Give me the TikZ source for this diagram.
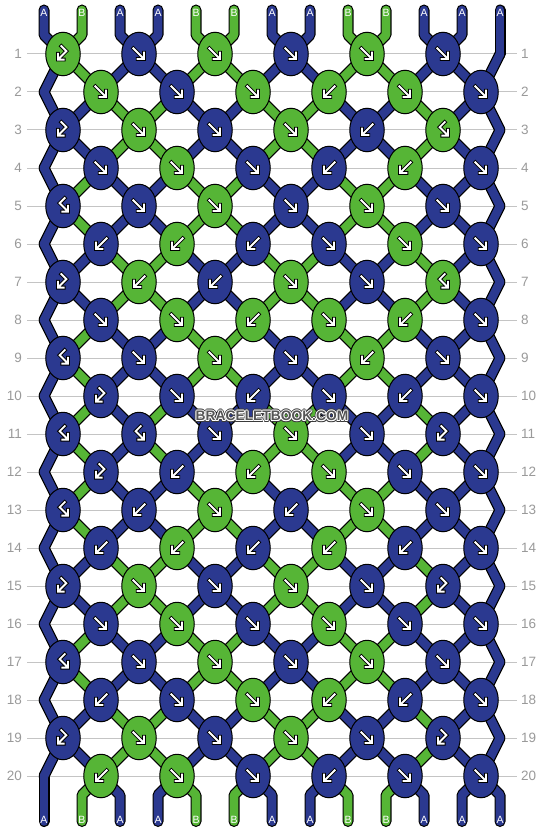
\documentclass[tikz,border=0pt]{standalone}
\usepackage{fontspec}
\setmainfont{Liberation Sans}
\usetikzlibrary{shapes.geometric}
\definecolor{strA}{HTML}{2B3990}
\definecolor{strB}{HTML}{56B536}
\definecolor{gridgray}{HTML}{C4C4C4}
\definecolor{labgray}{HTML}{9A9A9A}
\definecolor{wmdark}{HTML}{3A3A3A}
\definecolor{wmfill}{HTML}{555555}
\def\stP{A,B,A,A,B,B,A,A,B,B,A,A,A}
\def\stQ{A,A,B,B,A,A,B,B,A,A,B,A,A}
\def\stR{A,B,A,B,A,A,B,B,A,A,B,A,A}
\newcommand\knotglyph[2]{\draw[glyphout,shift={(#1)},scale=1.12] #2; \draw[glyphin,shift={(#1)},scale=1.12] #2;}
\newcommand\kgF[1]{\knotglyph{#1}{(-5,-5) -- (3.6,3.6) (4.5,-1.2) -- (4.5,4.5) -- (-1.2,4.5)}}
\newcommand\kgB[1]{\knotglyph{#1}{(5,-5) -- (-3.6,3.6) (-4.5,-1.2) -- (-4.5,4.5) -- (1.2,4.5)}}
\newcommand\kgFB[1]{\knotglyph{#1}{(1.5,-7) -- (-3,-2.5) -- (3.4,3.9) (4.5,-0.2) -- (4.5,5) -- (-0.7,5)}}
\newcommand\kgBF[1]{\knotglyph{#1}{(-1.5,-7) -- (3,-2.5) -- (-3.4,3.9) (-4.5,-0.2) -- (-4.5,5) -- (0.7,5)}}
\newcommand\allstrands[1]{%
  \foreach \cc [count=\ii] in \stP { \draw[strand#1=\cc] (t-\ii) -- (tb-\ii) -- (p-1-\ii); }
  \foreach \rr/\sn in {1/P,2/Q,3/Q,4/P,5/P,6/Q,7/Q,8/P,9/P,10/R,11/R,12/P,13/P,14/Q,15/Q,16/P,17/P,18/Q,19/Q} {
    \pgfmathtruncatemacro\rn{\rr+1}
    \expandafter\let\expandafter\curst\csname st\sn\endcsname
    \foreach \cc [count=\ii] in \curst { \draw[strand#1=\cc] (p-\rr-\ii) -- (p-\rn-\ii); }
  }
  \foreach \cc [count=\ii] in \stP { \draw[strand#1=\cc] (p-20-\ii) -- (bb-\ii) -- (e-\ii); }
}
\begin{document}
\begin{tikzpicture}[x=1pt,y=-1pt,
  strand0/.style={draw=black, line width=11pt, line cap=round, line join=round},
  strand1/.style={draw=str#1, line width=8.6pt, line cap=round, line join=round},
  knot/.style={ellipse, draw=black, line width=1pt, minimum width=34.5pt, minimum height=43.5pt, inner sep=0pt},
  glyphout/.style={draw=black, line width=3.8pt, line cap=rect, line join=miter},
  glyphin/.style={draw=white, line width=1.9pt, line cap=rect, line join=miter},
  gridline/.style={draw=gridgray, line width=1pt},
  rowlab/.style={text=labgray, font=\fontsize{13.5}{15}\selectfont, inner sep=0pt},
  strlab/.style={text=white, font=\fontsize{10.5}{12}\selectfont, inner sep=0pt},
  wmtext/.style={font=\bfseries\fontsize{13.8}{15}\selectfont, inner sep=0pt}
]
\useasboundingbox (0,0) rectangle (544,832);
\fill[white] (0,0) rectangle (544,832);
% grid lines and row labels
\foreach \rr in {1,...,20} {
  \pgfmathsetmacro\yy{54+38*(\rr-1)}
  \coordinate (gl-\rr) at (27,\yy);
  \coordinate (gr-\rr) at (517,\yy);
  \draw[gridline] (gl-\rr) -- (gr-\rr);
  \node[rowlab, anchor=east] (ll-\rr) at (22,\yy) {\rr};
  \node[rowlab, anchor=west] (rl-\rr) at (521,\yy) {\rr};
}
% strand coordinates
\foreach \rr in {1,...,20} {
  \foreach \ii in {1,...,13} {
    \pgfmathsetmacro\px{isodd(\rr) ? (\ii==13 ? 500 : 63+76*floor((\ii-1)/2)) : (\ii==1 ? 44 : 25+76*floor(\ii/2))}
    \pgfmathsetmacro\py{54+38*(\rr-1)}
    \coordinate (p-\rr-\ii) at (\px,\py);
  }
}
\foreach \ii in {1,...,13} {
  \pgfmathsetmacro\sx{44+38*(\ii-1)}
  \pgfmathsetmacro\tby{\ii==13 ? 30 : 35}
  \pgfmathsetmacro\bby{\ii==1 ? 800 : 795}
  \coordinate (t-\ii) at (\sx,10);
  \coordinate (tb-\ii) at (\sx,\tby);
  \coordinate (bb-\ii) at (\sx,\bby);
  \coordinate (e-\ii) at (\sx,821.5);
}
% strands: outlines then colours
\allstrands{0}
\allstrands{1}
% string labels
\foreach \cc [count=\ii] in \stP {
  \pgfmathsetmacro\sx{44+38*(\ii-1)}
  \node[strlab] (tl-\ii) at (\sx,12.5) {\cc};
  \node[strlab] (bl-\ii) at (\sx,819.5) {\cc};
}
% knots
\foreach \rr/\ks in {
  1/{BF/B,F/A,F/B,F/A,F/B,F/A},
  2/{F/B,F/A,F/B,B/B,F/B,F/A},
  3/{BF/A,F/B,F/A,F/B,B/A,FB/B},
  4/{F/A,F/B,F/A,B/A,B/B,F/A},
  5/{FB/A,F/A,F/B,F/A,F/B,F/A},
  6/{B/A,B/B,B/A,F/A,F/B,F/A},
  7/{BF/A,B/B,B/A,F/B,F/A,FB/B},
  8/{F/A,F/B,B/B,F/B,B/B,F/A},
  9/{FB/A,F/A,F/B,F/A,B/B,F/A},
  10/{BF/A,F/A,B/A,F/A,B/A,F/A},
  11/{FB/A,FB/A,F/A,F/B,F/A,BF/A},
  12/{BF/A,B/A,B/B,F/B,F/A,F/A},
  13/{FB/A,B/A,F/B,B/A,F/B,F/A},
  14/{B/A,B/B,B/A,B/B,B/A,F/A},
  15/{BF/A,F/B,F/A,F/B,F/A,BF/A},
  16/{F/A,F/B,F/A,F/B,F/A,F/A},
  17/{FB/A,F/A,F/B,F/A,F/B,F/A},
  18/{B/A,F/A,F/B,B/B,B/A,F/A},
  19/{BF/A,F/B,F/A,F/B,F/A,BF/A},
  20/{B/B,F/B,F/A,B/A,F/A,F/A}} {
  \foreach \kt/\cc [count=\kk] in \ks {
    \pgfmathsetmacro\kx{(isodd(\rr) ? 63 : 101) + 76*(\kk-1)}
    \pgfmathsetmacro\ky{54+38*(\rr-1)}
    \node[knot, fill=str\cc] (k-\rr-\kk) at (\kx,\ky) {};
    \csname kg\kt\endcsname{k-\rr-\kk}
  }
}
% watermark: dark rim and white halo behind grey letters
\foreach \a in {0,45,...,315} {
  \node[wmtext, text=wmdark, shift={(\a:1.8pt)}] (wmo-\a) at (272,416) {BRACELETBOOK.COM};
}
\foreach \a in {0,45,...,315} {
  \node[wmtext, text=white, shift={(\a:1.0pt)}] (wmi-\a) at (272,416) {BRACELETBOOK.COM};
}
\node[wmtext, text=wmfill] (wm) at (272,416) {BRACELETBOOK.COM};
\end{tikzpicture}
\end{document}
